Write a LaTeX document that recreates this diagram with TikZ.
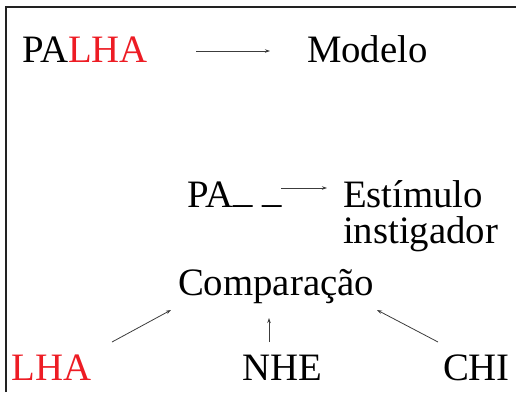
\documentclass[tikz,border=0pt]{standalone}
\usepackage{fontspec}
\setmainfont{Liberation Serif}
\usetikzlibrary{arrows.meta}
\definecolor{txtred}{RGB}{237,28,36}
\definecolor{framegray}{RGB}{34,34,34}
\definecolor{arrgray}{RGB}{60,60,60}
\tikzset{
  lbl/.style={anchor=base west, inner sep=0pt, outer sep=0pt, font=\fontsize{38.8pt}{36pt}\selectfont},
  conn/.style={draw=arrgray, line width=0.8pt, -{Stealth[length=5pt,width=3.5pt]}},
  frameline/.style={draw=framegray, line width=2pt}
}
\begin{document}
\begin{tikzpicture}[x=1pt,y=-1pt]
\useasboundingbox (0,0) rectangle (516,392);
% frame (top and left edges)
\coordinate (fbl) at (6,392);
\coordinate (ftl) at (6,7);
\coordinate (ftr) at (516,7);
\draw[frameline] (fbl) -- (ftl) -- (ftr);
% texts
\node[lbl] (palha) at (22,62) {PA\textcolor{txtred}{LHA}};
\node[lbl] (modelo) at (307,62) {Modelo};
\node[lbl] (pa) at (187,207) {PA\raisebox{5pt}{\_} \raisebox{5pt}{\_}};
\node[lbl] (estimulo) at (343,207) {Estímulo};
\node[lbl] (instig) at (343,243) {instigador};
\node[lbl] (comp) at (178,295) {Comparação};
\node[lbl, text=txtred] (lha) at (12,380) {LHA};
\node[lbl] (nhe) at (242,380) {NHE};
\node[lbl] (chi) at (443,380) {CHI};
% arrow end points
\coordinate (a1s) at (196,51);
\coordinate (a1e) at (270,51);
\coordinate (a2s) at (281,188);
\coordinate (a2e) at (327,188);
\coordinate (a3s) at (112,342);
\coordinate (a3e) at (171,310);
\coordinate (a4s) at (269,342);
\coordinate (a4e) at (269,318);
\coordinate (a5s) at (438,342);
\coordinate (a5e) at (377,310);
\draw[conn] (a1s) -- (a1e);
\draw[conn] (a2s) -- (a2e);
\draw[conn] (a3s) -- (a3e);
\draw[conn] (a4s) -- (a4e);
\draw[conn] (a5s) -- (a5e);
\end{tikzpicture}
\end{document}
